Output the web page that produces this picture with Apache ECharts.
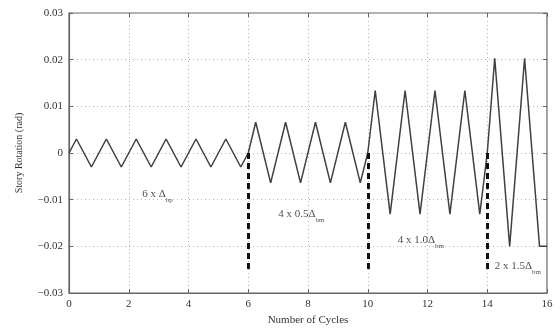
<!DOCTYPE html>
<html>
<head>
<meta charset="utf-8">
<script src="https://cdn.jsdelivr.net/npm/echarts@6/dist/echarts.min.js"></script>
<style>
  html, body { margin: 0; padding: 0; background: #fff; }
  #chart { width: 560px; height: 333px; }
</style>
</head>
<body>
<div id="chart"></div>
<script>
// loading protocol vertices (peaks / troughs)
const cycles = [0, 0.25, 0.75, 1.25, 1.75, 2.25, 2.75, 3.25, 3.75, 4.25, 4.75, 5.25, 5.75, 6,
  6.25, 6.75, 7.25, 7.75, 8.25, 8.75, 9.25, 9.75, 10,
  10.25, 10.75, 11.25, 11.75, 12.25, 12.75, 13.25, 13.75, 14,
  14.25, 14.75, 15.25, 15.75, 16];
const rotation = [0, 0.003, -0.003, 0.003, -0.003, 0.003, -0.003, 0.003, -0.003, 0.003, -0.003, 0.003, -0.003, 0,
  0.0066, -0.0064, 0.0066, -0.0064, 0.0066, -0.0064, 0.0066, -0.0064, 0,
  0.0134, -0.0131, 0.0134, -0.0131, 0.0134, -0.0131, 0.0134, -0.0131, 0,
  0.0203, -0.02, 0.0203, -0.02, -0.02];

const stageBreaks = [6, 10, 14];
const stageLabels = [
  { x: 2.45, y: -0.0088, main: '6 x Δ', sub: 'bp' },
  { x: 7.0, y: -0.0131, main: '4 x 0.5Δ', sub: 'bm' },
  { x: 11.0, y: -0.0187, main: '4 x 1.0Δ', sub: 'bm' },
  { x: 14.25, y: -0.0243, main: '2 x 1.5Δ', sub: 'bm' }
];
const xTicks = [0, 2, 4, 6, 8, 10, 12, 14, 16];
const yTicks = [-0.03, -0.02, -0.01, 0, 0.01, 0.02, 0.03];

const font = '"Liberation Serif", "DejaVu Serif", serif';
const txt = '#333';

const chart = echarts.init(document.getElementById('chart'));

const gridLine = { show: true, lineStyle: { color: '#b5b5b5', type: [1, 3], width: 1 } };
const innerTick = { show: true, inside: true, length: 4, lineStyle: { color: '#666' } };

chart.setOption({
  animation: false,
  grid: { left: 69, right: 13, top: 13, bottom: 40, show: true, borderColor: '#666', borderWidth: 1.2 },
  xAxis: [{
    type: 'value', min: xTicks[0], max: xTicks[xTicks.length - 1], interval: 2,
    name: 'Number of Cycles', nameLocation: 'middle', nameGap: 18,
    nameTextStyle: { fontFamily: font, fontSize: 11, color: txt },
    axisLine: { show: true, onZero: false, lineStyle: { color: '#666', width: 1.2 } },
    axisTick: innerTick,
    axisLabel: { fontFamily: font, fontSize: 11, color: txt, margin: 6 },
    splitLine: gridLine
  }, {
    type: 'value', min: 0, max: 16, interval: 2, position: 'top',
    axisLine: { show: false, onZero: false }, axisLabel: { show: false }, splitLine: { show: false },
    axisTick: innerTick
  }],
  yAxis: [{
    type: 'value', min: yTicks[0], max: yTicks[yTicks.length - 1], interval: 0.01,
    name: 'Story Rotation (rad)', nameLocation: 'middle', nameGap: 45,
    nameTextStyle: { fontFamily: font, fontSize: 10, color: txt },
    axisLine: { show: true, onZero: false, lineStyle: { color: '#666', width: 1.2 } },
    axisTick: innerTick,
    axisLabel: {
      fontFamily: font, fontSize: 11, color: txt, margin: 6,
      formatter: v => {
        const r = Math.round(v * 100) / 100;
        if (r === 0) return '0';
        return (r < 0 ? '\u2212' : '') + Math.abs(r).toFixed(2);
      }
    },
    splitLine: gridLine
  }, {
    type: 'value', min: -0.03, max: 0.03, interval: 0.01, position: 'right',
    axisLine: { show: false, onZero: false }, axisLabel: { show: false }, splitLine: { show: false },
    axisTick: innerTick
  }],
  series: [{
    type: 'line',
    data: cycles.map((c, i) => [c, rotation[i]]),
    symbol: 'none',
    lineStyle: { color: '#404040', width: 1.5 },
    z: 3,
    markLine: {
      silent: true, symbol: 'none', label: { show: false },
      lineStyle: { color: '#111', type: [6, 4], width: 3 },
      data: stageBreaks.map(b => [{ coord: [b, 0] }, { coord: [b, -0.025] }])
    }
  }, {
    type: 'scatter',
    symbolSize: 0,
    data: stageLabels.map(s => ({ value: [s.x, s.y], main: s.main, sub: s.sub })),
    z: 4,
    label: {
      show: true, position: 'right', distance: 0,
      formatter: p => '{a|' + p.data.main + '}{s|' + p.data.sub + '}',
      rich: {
        a: { fontFamily: font, fontSize: 11, color: '#222', lineHeight: 14 },
        s: { fontFamily: font, fontSize: 7, color: '#222', lineHeight: 8, padding: [12, 0, 0, 0] }
      }
    }
  }]
});
</script>
</body>
</html>
